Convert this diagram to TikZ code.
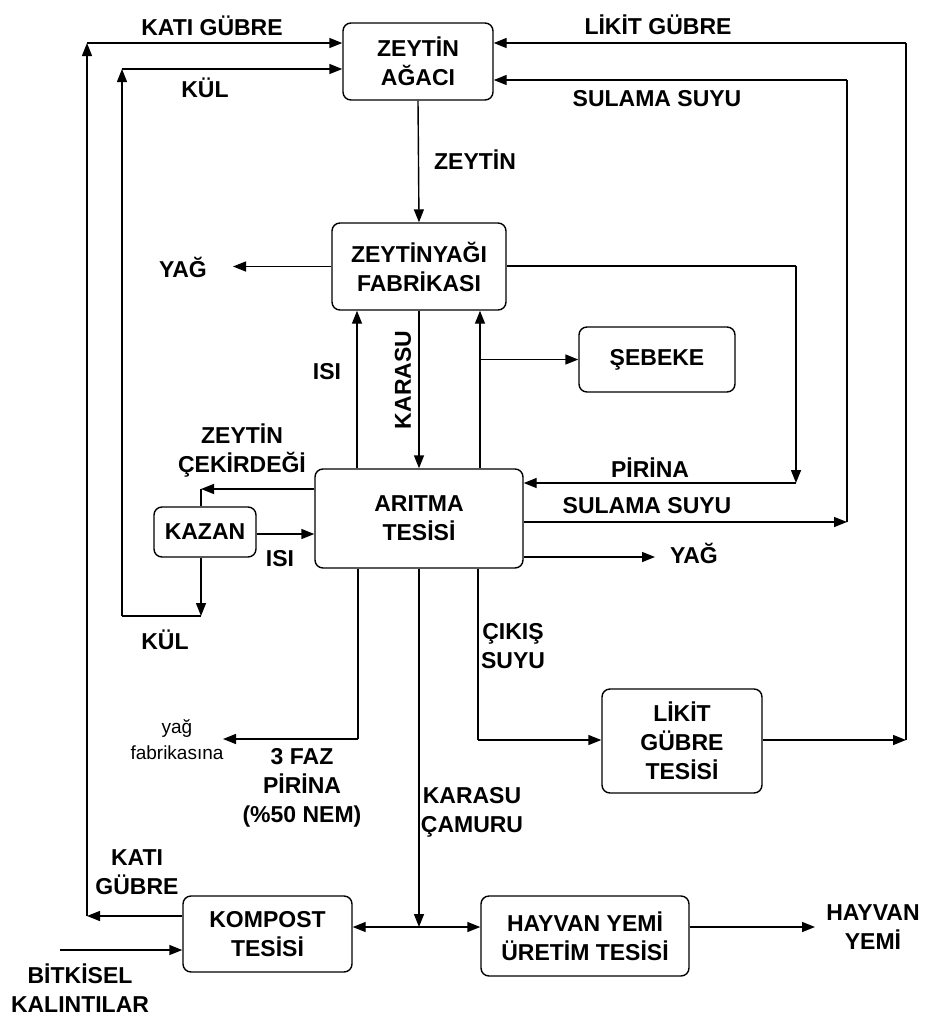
\documentclass[tikz,border=0pt]{standalone}
\usepackage{fontspec}
\setmainfont{Liberation Sans}
\usetikzlibrary{arrows.meta}
\begin{document}
\begin{tikzpicture}[x=1pt,y=-1pt,
  every node/.style={font=\bfseries\fontsize{23}{29}\selectfont},
  box/.style={draw,line width=1.4pt,rounded corners=8pt,inner sep=0pt,align=center},
  lbl/.style={inner sep=0pt,align=center},
  small/.style={inner sep=0pt,align=center,font=\fontsize{19}{26}\selectfont},
  ln/.style={line width=1.4pt},
  arr/.style={line width=1.4pt,-{Triangle[length=13pt,width=10pt]}},
  arrb/.style={line width=1.4pt,{Triangle[length=13pt,width=10pt]}-{Triangle[length=13pt,width=10pt]}}]
\useasboundingbox (0,0) rectangle (949,1021);
% boxes
\node[box,minimum width=150pt,minimum height=77pt] (agac) at (418,61.5) {ZEYTİN\\AĞACI};
\node[box,minimum width=174pt,minimum height=87pt] (fab) at (419,266.5) {ZEYTİNYAĞI\\FABRİKASI};
\node[box,minimum width=156pt,minimum height=65pt] (sebeke) at (657,359.5) {ŞEBEKE};
\node[box,minimum width=208pt,minimum height=99pt] (arit) at (419,518.5) {ARITMA\\TESİSİ};
\node[box,minimum width=102pt,minimum height=50pt] (kazan) at (205,532) {KAZAN};
\node[box,minimum width=160pt,minimum height=104pt] (likit) at (682,741) {LİKİT\\GÜBRE\\TESİSİ};
\node[box,minimum width=169pt,minimum height=76pt] (kompost) at (267.5,934) {KOMPOST\\TESİSİ};
\node[box,minimum width=208pt,minimum height=80pt] (hayvan) at (585,936) {HAYVAN YEMİ\\ÜRETİM TESİSİ};
% coordinates
\coordinate (kg1) at (87,43);
\coordinate (kg2) at (87,916);
\coordinate (kul1) at (122,69);
\coordinate (kul2) at (122,616);
\coordinate (kul3) at (201,616);
\coordinate (lg1) at (906,43);
\coordinate (lg2) at (906,740);
\coordinate (ss1) at (847,80);
\coordinate (ss2) at (847,522);
\coordinate (pr1) at (796,266);
\coordinate (pr2) at (796,483);
\coordinate (yag1) at (233,266.5);
\coordinate (yag2) at (655,557);
\coordinate (ce) at (201,489);
\coordinate (ki) at (256,534);
\coordinate (isix) at (357,400);
\coordinate (sb) at (480,359.5);
\coordinate (fz) at (358,739);
\coordinate (fzend) at (223,739);
\coordinate (cs) at (478,740);
\coordinate (kc) at (419,927);
\coordinate (hy) at (815,927);
\coordinate (bk) at (60,950);
% connectors
\draw[arr] (kompost.west |- kg2) -- (kg2);
\draw[arr] (kg2) -- (kg1);
\draw[arr] (kg1) -- (agac.west |- kg1);
\draw[arr] (kazan.south -| kul3) -- (kul3);
\draw[ln] (kul3) -- (kul2);
\draw[arr] (kul2) -- (kul1);
\draw[arr] (kul1) -- (agac.west |- kul1);
\draw[arr] (likit.east |- lg2) -- (lg2);
\draw[ln] (lg2) -- (lg1);
\draw[arr] (lg1) -- (agac.east |- lg1);
\draw[arr] (arit.east |- ss2) -- (ss2);
\draw[ln] (ss2) -- (ss1);
\draw[arr] (ss1) -- (agac.east |- ss1);
\draw[ln] (fab.east |- pr1) -- (pr1);
\draw[arr] (pr1) -- (pr2);
\draw[arr] (pr2) -- (arit.east |- pr2);
\draw[arr] (agac.south) -- (fab.north);
\draw[arr] (fab.west) -- (yag1);
\draw[arr] (arit.north -| isix) -- (fab.south -| isix);
\draw[arr] (fab.south) -- (arit.north);
\draw[arr] (arit.north -| sb) -- (fab.south -| sb);
\draw[arr] (sb) -- (sebeke.west);
\draw[arr] (arit.west |- ce) -- (ce);
\draw[ln] (kazan.north -| ce) -- (ce);
\draw[arr] (kazan.east |- ki) -- (arit.west |- ki);
\draw[arr] (arit.east |- yag2) -- (yag2);
\draw[ln] (arit.south -| fz) -- (fz);
\draw[arr] (fz) -- (fzend);
\draw[ln] (arit.south -| cs) -- (cs);
\draw[arr] (cs) -- (likit.west |- cs);
\draw[arr] (arit.south) -- (kc);
\draw[arrb] (kompost.east |- kc) -- (hayvan.west |- kc);
\draw[arr] (hayvan.east |- kc) -- (hy);
\draw[arr] (bk) -- (kompost.west |- bk);
% labels
\node[lbl] (l1) at (212,26) {KATI GÜBRE};
\node[lbl] (l2) at (205,88) {KÜL};
\node[lbl] (l3) at (658,25) {LİKİT GÜBRE};
\node[lbl] (l4) at (657,99) {SULAMA SUYU};
\node[lbl] (l5) at (475,160) {ZEYTİN};
\node[lbl] (l6) at (183,267) {YAĞ};
\node[lbl] (l7) at (327,372) {ISI};
\node[lbl,rotate=90] (l8) at (403,380) {KARASU};
\node[lbl] (l9) at (650,468) {PİRİNA};
\node[lbl] (l10) at (647,506) {SULAMA SUYU};
\node[lbl] (l11) at (694,553) {YAĞ};
\node[lbl] (l12) at (242,451) {ZEYTİN\\ÇEKİRDEĞİ};
\node[lbl] (l13) at (280,559) {ISI};
\node[lbl] (l14) at (165,640) {KÜL};
\node[lbl] (l15) at (513,646) {ÇIKIŞ\\SUYU};
\node[small] (l16) at (177,740) {yağ\\fabrikasına};
\node[lbl] (l17) at (302,788) {3 FAZ\\PİRİNA\\(\%50 NEM)};
\node[lbl] (l18) at (472,812) {KARASU\\ÇAMURU};
\node[lbl] (l19) at (137,872) {KATI\\GÜBRE};
\node[lbl] (l20) at (873,927) {HAYVAN\\YEMİ};
\node[lbl] (l21) at (80,988) {BİTKİSEL\\KALINTILAR};
\end{tikzpicture}
\end{document}
